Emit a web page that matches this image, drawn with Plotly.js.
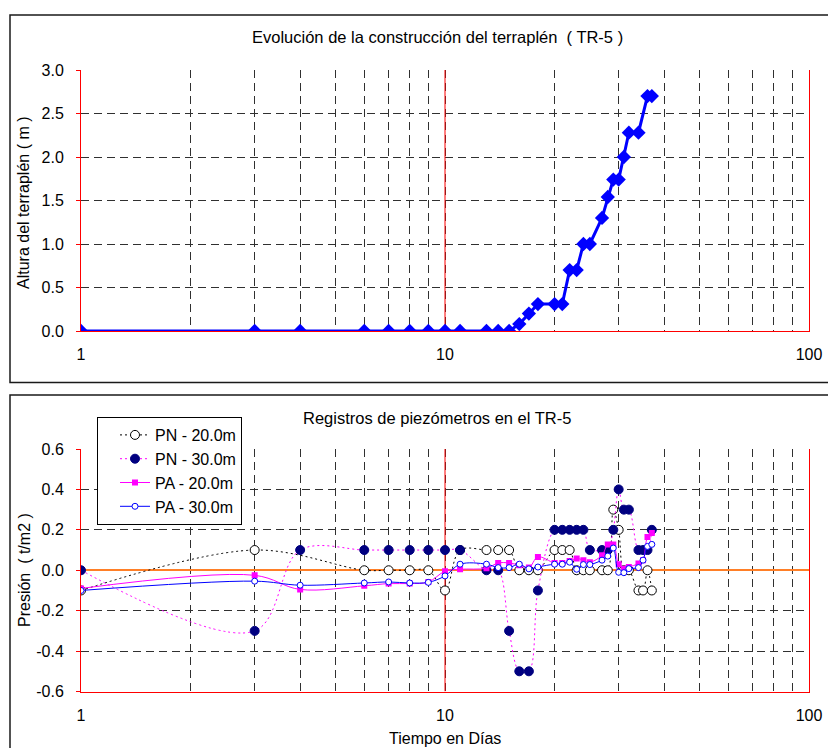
<!DOCTYPE html>
<html><head><meta charset="utf-8">
<script src="https://cdn.plot.ly/plotly-3.0.1.min.js"></script>
<style>html,body{margin:0;padding:0;background:#fff}</style>
</head><body><div id="chart" style="width:828px;height:748px"></div>
<script>
// ---- Data ----
const topDays   = [1,3,4,6,7,8,9,10,11,13,14,15,16,17,18,20,21,22,23,24,25,27,28,29,30,31,32,34,36,37];
const topHeight = [0,0,0,0,0,0,0,0,0,0,0,0,0.08,0.2,0.31,0.31,0.31,0.7,0.7,1.0,1.0,1.3,1.54,1.74,1.74,2.0,2.28,2.28,2.7,2.7];

const pn20Days = [1,3,6,7,8,9,10,11,13,14,15,16,17,18,20,21,22,23,24,25,27,28,29,30,31,32,34,35,36,37];
const pn20Vals = [-0.1,0.1,0,0,0,0,-0.1,0.1,0.1,0.1,0.1,0,0,0,0.1,0.1,0.1,0,0,0,0,0,0.3,0.2,0,0,-0.1,-0.1,0,-0.1];

const pn30Days = [1,3,4,6,7,8,9,10,11,13,14,15,16,17,18,20,21,22,23,24,25,27,28,29,30,31,32,34,35,36,37];
const pn30Vals = [0,-0.3,0.1,0.1,0.1,0.1,0.1,0.1,0.1,0,0,-0.3,-0.5,-0.5,-0.1,0.2,0.2,0.2,0.2,0.2,0.1,0.1,0.1,0.2,0.4,0.3,0.3,0.1,0.1,0.1,0.2];

const paDays  = [1,3,4,6,7,8,9,10,11,13,14,15,16,17,18,20,21,22,23,24,25,27,28,29,30,31,32,34,35,36,37];
const pa20Vals = [-0.09,-0.025,-0.095,-0.077,-0.066,-0.066,-0.058,-0.005,0.005,0.01,0.036,0.036,0.025,0.013,0.066,0.036,0.036,0.046,0.058,0.05,0.04,0.074,0.128,0.128,0.03,0.008,0.016,0.033,0.05,0.165,0.184];
const pa30Vals = [-0.1,-0.054,-0.074,-0.063,-0.058,-0.063,-0.06,-0.028,0.03,0.03,0.013,0.013,0.03,0.007,0.016,0.03,0.03,0.04,0.005,0.028,0.028,0.05,0.07,0.11,-0.01,-0.012,0.008,0.013,0.05,0.118,0.128];

const seriesNames = ['PN - 20.0m','PN - 30.0m','PA - 20.0m','PA - 30.0m'];

const xTickVals = [1,2,3,4,5,6,7,8,9,10,20,30,40,50,60,70,80,90,100];
const xTickText = ['1','','','','','','','','','10','','','','','','','','','100'];
const topYVals = [0,0.5,1,1.5,2,2.5,3];
const topYText = ['0.0','0.5','1.0','1.5','2.0','2.5','3.0'];
const botYVals = [-0.6,-0.4,-0.2,0,0.2,0.4,0.6];
const botYText = ['-0.6','-0.4','-0.2','0.0','0.2','0.4','0.6'];

const texts = {
  topTitle: 'Evolución de la construcción del terraplén  ( TR-5 )',
  botTitle: 'Registros de piezómetros en el TR-5',
  topY: 'Altura del terraplén ( m )',
  botY: 'Presión  ( t/m2 )',
  botX: 'Tiempo en Días'
};

// ---- Layout geometry (pixels) ----
const W = 828, H = 748;
const px = v => v / W, py = v => 1 - v / H;
const FONT = 'Liberation Sans, Arial, sans-serif';
const topRange = [0, 3], botRange = [-0.6, 0.6], xRange = [1, 100], decadeDay = 10;

const traces = [
  {x: topDays, y: topHeight, xaxis: 'x', yaxis: 'y', type: 'scatter', mode: 'lines+markers',
   line: {color: '#0000ff', width: 3}, marker: {symbol: 'diamond', size: 11, color: '#0000ff'},
   showlegend: false, hoverinfo: 'none'},
  {x: pn20Days, y: pn20Vals, xaxis: 'x2', yaxis: 'y2', name: seriesNames[0], legendgroup: 'a',
   mode: 'lines+markers', line: {color: '#000000', width: 1, dash: '2px,3px', shape: 'spline', smoothing: 1},
   marker: {symbol: 'circle', size: 9, color: '#ffffff', line: {color: '#000000', width: 1}}},
  {x: pn30Days, y: pn30Vals, xaxis: 'x2', yaxis: 'y2', name: seriesNames[1], legendgroup: 'b',
   mode: 'lines+markers', line: {color: '#ff00ff', width: 1, dash: '2px,3px', shape: 'spline', smoothing: 1},
   marker: {symbol: 'circle', size: 9, color: '#000080', line: {color: '#000080', width: 1}}},
  {x: paDays, y: pa20Vals, xaxis: 'x2', yaxis: 'y2', name: seriesNames[2], legendgroup: 'c',
   mode: 'lines+markers', line: {color: '#ff00ff', width: 1, shape: 'spline', smoothing: 1},
   marker: {symbol: 'square', size: 6, color: '#ff00ff'}},
  {x: paDays, y: pa30Vals, xaxis: 'x2', yaxis: 'y2', name: seriesNames[3], legendgroup: 'd',
   mode: 'lines+markers', line: {color: '#0000ff', width: 1, shape: 'spline', smoothing: 1},
   marker: {symbol: 'circle', size: 6, color: '#ffffff', line: {color: '#0000ff', width: 1}}}
];

const gridDash = '8px,5px';
const xCommon = {
  type: 'log', range: [Math.log10(xRange[0]), Math.log10(xRange[1])], tickmode: 'array',
  tickvals: xTickVals, ticktext: xTickText,
  showgrid: true, gridcolor: '#303030', griddash: gridDash, gridwidth: 1,
  showline: true, linecolor: '#ff0000', linewidth: 1, zeroline: false,
  ticks: '', ticklabelstandoff: 9, tickfont: {family: FONT, size: 16, color: '#000'},
  fixedrange: true
};
const yCommon = {
  tickmode: 'array', showgrid: true, gridcolor: '#303030', griddash: gridDash, gridwidth: 1,
  showline: true, linecolor: '#ff0000', linewidth: 1, mirror: true,
  ticks: 'outside', ticklen: 4, tickcolor: '#ff0000', ticklabelstandoff: 9,
  tickfont: {family: FONT, size: 16, color: '#000'}, fixedrange: true
};

const layout = {
  width: W, height: H, margin: {l: 0, r: 0, t: 0, b: 0},
  paper_bgcolor: '#ffffff', plot_bgcolor: '#ffffff',
  font: {family: FONT, size: 16, color: '#000'},
  xaxis: Object.assign({}, xCommon, {domain: [px(81), px(809)], anchor: 'y'}),
  yaxis: Object.assign({}, yCommon, {domain: [py(331), py(70)], anchor: 'x', range: topRange,
    tickvals: topYVals, ticktext: topYText, zeroline: false}),
  xaxis2: Object.assign({}, xCommon, {domain: [px(81), px(809)], anchor: 'y2'}),
  yaxis2: Object.assign({}, yCommon, {domain: [py(691.5), py(449)], anchor: 'x2', range: botRange,
    tickvals: botYVals, ticktext: botYText, zeroline: true, zerolinecolor: '#ff7f27', zerolinewidth: 2}),
  showlegend: true,
  legend: {x: px(97), y: py(417), xanchor: 'left', yanchor: 'top', bgcolor: '#ffffff',
    bordercolor: '#000000', borderwidth: 1, font: {family: FONT, size: 16, color: '#000'},
    traceorder: 'grouped', tracegroupgap: 0, indentation: 17},
  shapes: [
    {type: 'rect', xref: 'paper', yref: 'paper', x0: px(10), x1: 1.05, y0: py(382.5), y1: py(15),
     line: {color: '#1a1a1a', width: 1.5}, layer: 'below'},
    {type: 'rect', xref: 'paper', yref: 'paper', x0: px(10), x1: 1.05, y0: -0.05, y1: py(395),
     line: {color: '#1a1a1a', width: 1.5}, layer: 'below'},
    {type: 'line', xref: 'x', yref: 'y', x0: decadeDay, x1: decadeDay, y0: topRange[0], y1: topRange[1],
     line: {color: '#ff0000', width: 1}, layer: 'between'},
    {type: 'line', xref: 'x2', yref: 'y2', x0: decadeDay, x1: decadeDay, y0: botRange[0], y1: botRange[1],
     line: {color: '#ff0000', width: 1}, layer: 'between'}
  ],
  annotations: [
    {xref: 'paper', yref: 'paper', x: px(437), y: py(37), text: texts.topTitle, showarrow: false,
     xanchor: 'center', yanchor: 'middle', font: {family: FONT, size: 16.5}},
    {xref: 'paper', yref: 'paper', x: px(437), y: py(418), text: texts.botTitle, showarrow: false,
     xanchor: 'center', yanchor: 'middle', font: {family: FONT, size: 16.5}},
    {xref: 'paper', yref: 'paper', x: px(24), y: py(203), text: texts.topY, showarrow: false,
     textangle: -90, xanchor: 'center', yanchor: 'middle', font: {family: FONT, size: 16}},
    {xref: 'paper', yref: 'paper', x: px(24), y: py(570), text: texts.botY, showarrow: false,
     textangle: -90, xanchor: 'center', yanchor: 'middle', font: {family: FONT, size: 16}},
    {xref: 'paper', yref: 'paper', x: px(445), y: py(738), text: texts.botX, showarrow: false,
     xanchor: 'center', yanchor: 'middle', font: {family: FONT, size: 16}}
  ]
};

Plotly.newPlot('chart', traces, layout, {staticPlot: true, displayModeBar: false});
</script>
</body></html>
